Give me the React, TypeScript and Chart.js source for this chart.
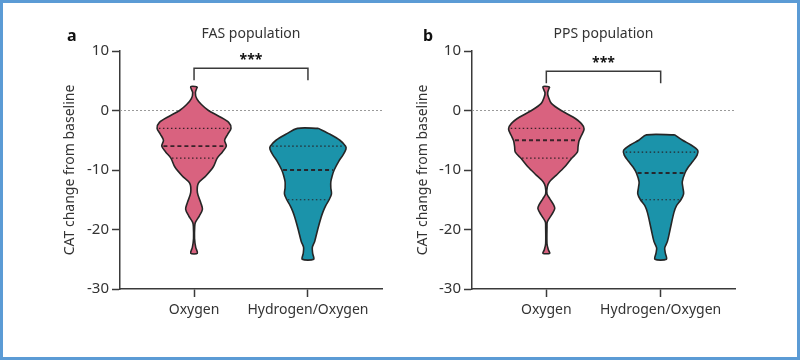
import React, { useEffect, useRef } from "react";
import { Chart, registerables } from "chart.js";

Chart.register(...registerables);

// ---------- data ----------
const CATEGORIES = ["Oxygen", "Hydrogen/Oxygen"];
const PANEL_LETTERS = ["a", "b"];
const PANEL_TITLES = ["FAS population", "PPS population"];
const Y_TITLE = "CAT change from baseline";
const SIGNIF = "***";
const Y_MIN = -30;
const Y_MAX = 10;
const Y_STEP = 10;

// Violin outlines: CAT levels and half-widths (relative density units)
const A_OXY_LEVELS = [4, 3, 2, 1, 0, -1, -2, -3, -4, -5, -6, -7, -8, -9.5, -11, -12.2, -13.8, -15.5, -16.6, -17.7, -18.8, -19.5, -21.5, -23, -24];
const A_OXY_WIDTHS = [10, 4, 8, 22, 43, 75, 103, 110, 100, 91, 96, 84, 69, 57, 35, 13, 10, 20, 25, 16, 4, 2, 1.5, 5, 10];
const A_HYD_LEVELS = [-3, -4, -5, -6, -6.5, -7.5, -8.5, -10, -11, -12, -13, -14, -15, -16, -17, -18, -20, -22, -23, -24, -25];
const A_HYD_WIDTHS = [31, 66, 95, 112, 113, 104, 92, 78, 72, 68, 68, 70, 63, 53, 45, 39, 29, 20, 13, 14, 17];

const B_OXY_LEVELS = [4, 3, 2.3, 1.2, 0, -1.1, -2.2, -3.1, -4.2, -5.1, -6.1, -7, -8.1, -9.5, -10.9, -12, -12.8, -14, -14.8, -15.9, -16.5, -17.6, -18.7, -19.6, -22.4, -23.4, -24];
const B_OXY_WIDTHS = [10, 4, 6, 15, 44, 79, 104, 112, 104, 97, 94, 92, 74, 54, 29, 9, 3, 2, 10, 22, 25, 15, 3, 2, 2, 6, 10];
const B_HYD_LEVELS = [-4.1, -5, -5.8, -6.7, -7.5, -8.5, -9.5, -10.5, -12, -13, -14, -15, -16, -17.2, -20, -22, -23.1, -24, -25];
const B_HYD_WIDTHS = [42, 65, 90, 110, 108, 96, 82, 72, 64, 66, 68, 60, 47, 39, 28, 20, 12, 14, 17];

// Quartiles [Q1, median, Q3]
const A_OXY_QUART = [-3, -6, -8];
const A_HYD_QUART = [-6, -10, -15];
const B_OXY_QUART = [-3, -5, -8];
const B_HYD_QUART = [-7, -10.5, -15];

// Significance bracket [leg bottom, bar], star level
const A_BRACKET = [5.1, 7.1];
const B_BRACKET = [4.6, 6.6];
const A_STAR = 9.2;
const B_STAR = 8.6;

// ---------- styles ----------
const FONT = "'Noto Sans', 'Open Sans', sans-serif";
const AXIS = "#3a3a3a";
const TEXT = "#333333";
const PINK = "#D9627F";
const TEAL = "#1B93AA";
const OUTLINE = "#262626";
const WIDTH_SCALE = 1 / 339;
const X_MIN = 0.35;
const X_MAX = 2.65;

function interp(levels: number[], widths: number[], v: number) {
  for (let i = 0; i < levels.length - 1; i++) {
    const a = levels[i], b = levels[i + 1];
    if ((v <= a && v >= b) || (v >= a && v <= b)) {
      const t = a === b ? 0 : (v - a) / (b - a);
      return widths[i] + t * (widths[i + 1] - widths[i]);
    }
  }
  return 0;
}

function violinDatasets(center: number, levels: number[], widths: number[], quart: number[], color: string) {
  const right = levels.map((v, i) => ({ x: center + widths[i] * WIDTH_SCALE, y: v }));
  const left = levels.map((v, i) => ({ x: center - widths[i] * WIDTH_SCALE, y: v })).reverse();
  const poly = [...right, ...left, right[0]];
  const sets: any[] = [
    {
      data: poly,
      borderColor: OUTLINE,
      borderWidth: 1.6,
      backgroundColor: color,
      fill: "shape",
      tension: 0.3,
      pointRadius: 0,
      order: 5,
    },
  ];
  quart.forEach((q, i) => {
    const w = interp(levels, widths, q) * WIDTH_SCALE * 0.95;
    const median = i === 1;
    sets.push({
      data: [
        { x: center - w, y: q },
        { x: center + w, y: q },
      ],
      borderColor: "rgba(40,28,32,0.9)",
      borderWidth: median ? 1.8 : 1.2,
      borderDash: median ? [4, 3] : [1.5, 2.5],
      fill: false,
      pointRadius: 0,
      tension: 0,
      order: 1,
    });
  });
  return sets;
}

type PanelCfg = {
  letter: string;
  title: string;
  oxy: [number[], number[], number[]];
  hyd: [number[], number[], number[]];
  bracket: number[];
  star: number;
  padLeft: number;
  padRight: number;
  yWidth: number;
  letterX: number;
};

const PANELS: PanelCfg[] = [
  {
    letter: PANEL_LETTERS[0],
    title: PANEL_TITLES[0],
    oxy: [A_OXY_LEVELS, A_OXY_WIDTHS, A_OXY_QUART],
    hyd: [A_HYD_LEVELS, A_HYD_WIDTHS, A_HYD_QUART],
    bracket: A_BRACKET,
    star: A_STAR,
    padLeft: 58,
    padRight: 18,
    yWidth: 62,
    letterX: 67,
  },
  {
    letter: PANEL_LETTERS[1],
    title: PANEL_TITLES[1],
    oxy: [B_OXY_LEVELS, B_OXY_WIDTHS, B_OXY_QUART],
    hyd: [B_HYD_LEVELS, B_HYD_WIDTHS, B_HYD_QUART],
    bracket: B_BRACKET,
    star: B_STAR,
    padLeft: 11,
    padRight: 65,
    yWidth: 61,
    letterX: 23,
  },
];

function Panel({ cfg, left }: { cfg: PanelCfg; left: number }) {
  const ref = useRef<HTMLCanvasElement>(null);
  useEffect(() => {
    if (!ref.current) return;
    const datasets: any[] = [
      {
        data: [
          { x: X_MIN, y: 0 },
          { x: X_MAX, y: 0 },
        ],
        borderColor: "#9a9a9a",
        borderWidth: 1,
        borderDash: [2, 2],
        pointRadius: 0,
        fill: false,
        order: 10,
      },
      ...violinDatasets(1, cfg.oxy[0], cfg.oxy[1], cfg.oxy[2], PINK),
      ...violinDatasets(2, cfg.hyd[0], cfg.hyd[1], cfg.hyd[2], TEAL),
      {
        data: [
          { x: 1, y: cfg.bracket[0] },
          { x: 1, y: cfg.bracket[1] },
          { x: 2, y: cfg.bracket[1] },
          { x: 2, y: cfg.bracket[0] },
        ],
        borderColor: AXIS,
        borderWidth: 1.5,
        pointRadius: 0,
        fill: false,
        tension: 0,
        order: 1,
      },
    ];
    const textPlugin = {
      id: "panelText",
      afterDraw(chart: any) {
        const ctx = chart.ctx;
        const area = chart.chartArea;
        ctx.save();
        ctx.fillStyle = "#111";
        ctx.font = `bold 16px ${FONT}`;
        ctx.textAlign = "left";
        ctx.textBaseline = "alphabetic";
        ctx.fillText(cfg.letter, cfg.letterX, 41);
        ctx.fillStyle = TEXT;
        ctx.font = `14px ${FONT}`;
        ctx.textAlign = "center";
        ctx.fillText(cfg.title, (area.left + area.right) / 2, 38);
        ctx.fillStyle = "#111";
        ctx.font = `bold 14px ${FONT}`;
        const sx = chart.scales.x.getPixelForValue(1.5);
        const sy = chart.scales.y.getPixelForValue(cfg.star);
        ctx.fillText(SIGNIF, sx, sy + 8);
        ctx.restore();
      },
    };
    const chart = new Chart(ref.current, {
      type: "line",
      data: { datasets },
      options: {
        responsive: false,
        animation: false,
        events: [],
        layout: { padding: { left: cfg.padLeft, right: cfg.padRight, top: 51, bottom: 0 } },
        plugins: { legend: { display: false }, tooltip: { enabled: false } },
        scales: {
          x: {
            type: "linear",
            min: X_MIN,
            max: X_MAX,
            afterBuildTicks: (s: any) => {
              s.ticks = CATEGORIES.map((_, i) => ({ value: i + 1 }));
            },
            afterFit: (s: any) => {
              s.height = 71;
            },
            ticks: {
              callback: (v: any) => CATEGORIES[Math.round(Number(v)) - 1] ?? "",
              font: { family: FONT, size: 14 },
              color: TEXT,
              padding: 5,
              maxRotation: 0,
              autoSkip: false,
            },
            grid: { drawOnChartArea: false, drawTicks: true, tickLength: 8, tickColor: AXIS, tickWidth: 1.5 },
            border: { display: true, color: AXIS, width: 1.5 },
          },
          y: {
            type: "linear",
            min: Y_MIN,
            max: Y_MAX,
            afterFit: (s: any) => {
              s.width = cfg.yWidth;
            },
            ticks: { stepSize: Y_STEP, font: { family: FONT, size: 15 }, color: TEXT, padding: 3 },
            grid: { drawOnChartArea: false, drawTicks: true, tickLength: 8, tickColor: AXIS, tickWidth: 1.5 },
            border: { display: true, color: AXIS, width: 1.5 },
            title: { display: true, text: Y_TITLE, font: { family: FONT, size: 14 }, color: TEXT, padding: { top: 4, bottom: 4 } },
          },
        },
      } as any,
      plugins: [textPlugin],
    });
    return () => chart.destroy();
  }, [cfg]);
  return (
    <canvas
      ref={ref}
      width={400}
      height={360}
      style={{ position: "absolute", left, top: 0, width: 400, height: 360 }}
    />
  );
}

export default function App() {
  return (
    <div style={{ position: "absolute", left: 0, top: 0, width: 800, height: 360, background: "#fff", overflow: "hidden" }}>
      <Panel cfg={PANELS[0]} left={0} />
      <Panel cfg={PANELS[1]} left={400} />
      <div
        style={{
          position: "absolute",
          inset: 0,
          border: "3px solid #5B9BD5",
          boxSizing: "border-box",
          pointerEvents: "none",
        }}
      />
    </div>
  );
}
